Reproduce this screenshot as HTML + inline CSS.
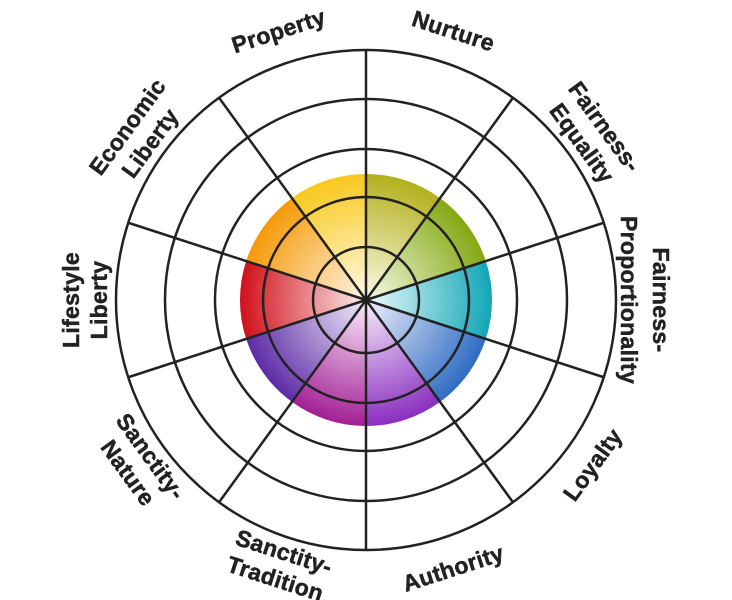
<!DOCTYPE html>
<html><head><meta charset="utf-8"><style>
html,body{margin:0;padding:0;background:#fff;}
svg{display:block;}
text{font-family:"Liberation Sans",sans-serif;font-weight:bold;font-size:23px;fill:#222;stroke:#222;stroke-width:0.5;letter-spacing:0.3px;}
</style></head><body>
<svg width="732" height="600" viewBox="0 0 732 600" xmlns="http://www.w3.org/2000/svg">
<defs>
<radialGradient id="g0" gradientUnits="userSpaceOnUse" cx="366" cy="300" r="126"><stop offset="0" stop-color="#fbfbe8"/><stop offset="1" stop-color="#b3b01c"/></radialGradient>
<radialGradient id="g1" gradientUnits="userSpaceOnUse" cx="366" cy="300" r="126"><stop offset="0" stop-color="#f6fbe6"/><stop offset="1" stop-color="#84a812"/></radialGradient>
<radialGradient id="g2" gradientUnits="userSpaceOnUse" cx="366" cy="300" r="126"><stop offset="0" stop-color="#eefcfd"/><stop offset="1" stop-color="#12a6b6"/></radialGradient>
<radialGradient id="g3" gradientUnits="userSpaceOnUse" cx="366" cy="300" r="126"><stop offset="0" stop-color="#f0f0fd"/><stop offset="1" stop-color="#2f6cc2"/></radialGradient>
<radialGradient id="g4" gradientUnits="userSpaceOnUse" cx="366" cy="300" r="126"><stop offset="0" stop-color="#f8eefb"/><stop offset="1" stop-color="#8a2ec0"/></radialGradient>
<radialGradient id="g5" gradientUnits="userSpaceOnUse" cx="366" cy="300" r="126"><stop offset="0" stop-color="#fbeefb"/><stop offset="1" stop-color="#a21f94"/></radialGradient>
<radialGradient id="g6" gradientUnits="userSpaceOnUse" cx="366" cy="300" r="126"><stop offset="0" stop-color="#f3eefb"/><stop offset="1" stop-color="#5d2ba6"/></radialGradient>
<radialGradient id="g7" gradientUnits="userSpaceOnUse" cx="366" cy="300" r="126"><stop offset="0" stop-color="#fdeeee"/><stop offset="1" stop-color="#d0101a"/></radialGradient>
<radialGradient id="g8" gradientUnits="userSpaceOnUse" cx="366" cy="300" r="126"><stop offset="0" stop-color="#fff6e8"/><stop offset="1" stop-color="#f59a08"/></radialGradient>
<radialGradient id="g9" gradientUnits="userSpaceOnUse" cx="366" cy="300" r="126"><stop offset="0" stop-color="#fffbe8"/><stop offset="1" stop-color="#f8c81c"/></radialGradient>
</defs>
<path d="M366 300L366 174A126 126 0 0 1 440.06 198.07Z" fill="url(#g0)"/>
<path d="M366 300L440.06 198.07A126 126 0 0 1 485.84 261.07Z" fill="url(#g1)"/>
<path d="M366 300L485.84 261.07A126 126 0 0 1 485.84 338.93Z" fill="url(#g2)"/>
<path d="M366 300L485.84 338.93A126 126 0 0 1 440.06 401.93Z" fill="url(#g3)"/>
<path d="M366 300L440.06 401.93A126 126 0 0 1 366 426Z" fill="url(#g4)"/>
<path d="M366 300L366 426A126 126 0 0 1 291.94 401.93Z" fill="url(#g5)"/>
<path d="M366 300L291.94 401.93A126 126 0 0 1 246.16 338.93Z" fill="url(#g6)"/>
<path d="M366 300L246.16 338.93A126 126 0 0 1 246.16 261.07Z" fill="url(#g7)"/>
<path d="M366 300L246.16 261.07A126 126 0 0 1 291.94 198.07Z" fill="url(#g8)"/>
<path d="M366 300L291.94 198.07A126 126 0 0 1 366 174Z" fill="url(#g9)"/>
<g fill="none" stroke="#222" stroke-width="2.5">
<circle cx="366" cy="300" r="250"/>
<circle cx="366" cy="300" r="201"/>
<circle cx="366" cy="300" r="151"/>
<circle cx="366" cy="300" r="103"/>
<circle cx="366" cy="300" r="53"/>
<path d="M366 300L366 50M366 300L512.95 97.75M366 300L603.78 222.75M366 300L603.78 377.25M366 300L512.95 502.25M366 300L366 550M366 300L219.05 502.25M366 300L128.22 377.25M366 300L128.22 222.75M366 300L219.05 97.75"/>
</g>
<g text-anchor="middle" dominant-baseline="central">
<text transform="rotate(18 366 300)" x="366" y="17">Nurture</text>
<text transform="rotate(-18 366 300)" x="366" y="17">Property</text>
<g transform="rotate(54 366 300)"><text x="366" y="5">Fairness-</text><text x="366" y="33">Equality</text></g>
<g transform="rotate(90 366 300)"><text x="366" y="5">Fairness-</text><text x="366" y="37">Proportionality</text></g>
<g transform="rotate(-54 366 300)"><text x="366" y="5">Economic</text><text x="366" y="33">Liberty</text></g>
<g transform="rotate(-90 366 300)"><text x="366" y="5">Lifestyle</text><text x="366" y="33">Liberty</text></g>
<text transform="rotate(-54 366 300)" x="366" y="580">Loyalty</text>
<text transform="rotate(-18 366 300)" x="366" y="582">Authority</text>
<g transform="rotate(18 366 300)"><text x="366" y="565">Sanctity-</text><text x="366" y="593">Tradition</text></g>
<g transform="rotate(54 366 300)"><text x="366" y="566">Sanctity-</text><text x="366" y="594">Nature</text></g>
</g>
</svg>
</body></html>
